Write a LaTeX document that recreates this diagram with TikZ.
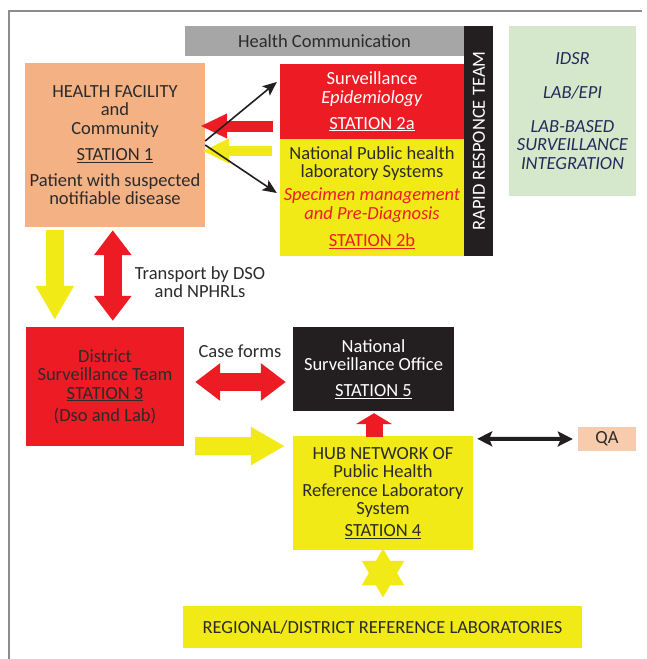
\documentclass[tikz,border=0pt]{standalone}
\usepackage{fontspec}
\setmainfont{Carlito}
\usetikzlibrary{arrows.meta,calc,shapes.geometric}
\definecolor{cRed}{HTML}{ED1C24}
\definecolor{cYel}{HTML}{F2EA16}
\definecolor{cPeach}{HTML}{F4B183}
\definecolor{cQA}{HTML}{F8CBAD}
\definecolor{cGray}{HTML}{A6A6A6}
\definecolor{cBlk}{HTML}{231F20}
\definecolor{cGreen}{HTML}{D5E8CC}
\definecolor{cNavy}{HTML}{242A5C}
\definecolor{cTxt}{HTML}{2B2B2B}
\definecolor{cFrame}{HTML}{8C8C8C}
\begin{document}
\begin{tikzpicture}[x=1pt,y=-1pt,
  box/.style={rectangle, inner sep=0pt, align=center, text=cTxt,
    font=\fontsize{18.5}{18.5}\selectfont},
  lbl/.style={inner sep=0pt, align=center, text=cTxt,
    font=\fontsize{18.5}{18.5}\selectfont},
  fatred/.style={line width=18pt, cRed, -{Triangle[length=25pt,width=36pt]}},
  fatredtwo/.style={line width=18pt, cRed, {Triangle[length=25pt,width=36pt]}-{Triangle[length=25pt,width=36pt]}},
  fatyel/.style={line width=18pt, cYel, -{Triangle[length=34pt,width=36pt]}},
  thinred/.style={line width=11pt, cRed, -{Triangle[length=27pt,width=23pt]}},
  thinyel/.style={line width=10pt, cYel, -{Triangle[length=27pt,width=23pt]}},
  blkarrow/.style={line width=1.6pt, cBlk, -{Stealth[length=14pt,width=12pt,inset=3pt]}},
  blktwo/.style={line width=4pt, cBlk, {Stealth[length=15pt,width=15pt,inset=3pt]}-{Stealth[length=15pt,width=15pt,inset=3pt]}},
]
\useasboundingbox (0,0) rectangle (647,659);
\fill[white] (0,0) rectangle (647,659);
\draw[cFrame, line width=1.2pt] (9,659) -- (9,11) -- (642,11);

% boxes
\node[box, fill=cGray, minimum width=279pt, minimum height=30pt] (hc) at (324.5,41) {Health Communication};
\node[box, fill=cBlk, minimum width=29pt, minimum height=230pt] (rrt) at (478.5,141) {};
\node[lbl, text=white, rotate=90] (rrtt) at (479,141) {RAPID RESPONCE TEAM};
\node[box, fill=cPeach, minimum width=180pt, minimum height=164pt] (hf) at (115,145)
  {HEALTH FACILITY\\ and\\ Community\\[8pt] \underline{STATION 1}\\[7pt] Patient with suspected\\ notifiable disease};
\node[box, fill=cRed, text=white, minimum width=184pt, minimum height=75pt] (st2a) at (372,101.5)
  {Surveillance\\ \textit{Epidemiology}\\[7.5pt] \underline{STATION 2a}};
\node[box, fill=cYel, minimum width=184pt, minimum height=117pt] (st2b) at (372,197.5)
  {National Public health\\ laboratory Systems\\[4.5pt]
   \textcolor{cRed}{\textit{Specimen management}}\\ \textcolor{cRed}{\textit{and Pre-Diagnosis}}\\[8.5pt]
   \textcolor{cRed}{\underline{STATION 2b}}};
\node[box, fill=cGreen, text=cNavy, minimum width=127pt, minimum height=170pt] (grn) at (572.5,111)
  {\textit{IDSR}\\[16pt] \textit{LAB/EPI}\\[15pt] \textit{LAB-BASED}\\ \textit{SURVEILLANCE}\\ \textit{INTEGRATION}};
\node[box, fill=cRed, minimum width=158pt, minimum height=119pt] (dst) at (105,386.5)
  {District\\ Surveillance Team\\ \underline{STATION 3}\\[3.5pt] (Dso and Lab)};
\node[box, fill=cBlk, text=white, minimum width=161pt, minimum height=84pt] (nso) at (373.5,369)
  {National\\ Surveillance Office\\[7pt] \underline{STATION 5}};
\node[box, fill=cYel, minimum width=180pt, minimum height=114pt] (hub) at (383,493)
  {HUB NETWORK OF\\ Public Health\\ Reference Laboratory\\ System\\[3.5pt] \underline{STATION 4}};
\node[box, fill=cQA, minimum width=58pt, minimum height=24pt] (qa) at (607,439) {QA};
\node[box, fill=cYel, minimum width=399pt, minimum height=42pt] (reg) at (382.5,627)
  {REGIONAL/DISTRICT REFERENCE LABORATORIES};
\node[star, star points=6, star point ratio=1.732, fill=cYel, inner sep=0pt, minimum size=49pt] (star) at (383,573) {};

% labels
\node[lbl] (tr) at (200,282) {Transport by DSO\\ and NPHRLs};
\node[lbl] (cf) at (240,351) {Case forms};

% connectors
\draw[thinred] ($(st2a.west)+(-7,24.5)$) -- ($(hf.east)+(-5,-19)$);
\draw[thinyel] ($(st2b.west)+(-8,-46.5)$) -- ($(hf.east)+(-3,6)$);
\draw[blkarrow] ($(hf.east)+(0,-4)$) -- ($(st2a.west)+(-3,-19.5)$);
\draw[blkarrow] ($(hf.east)+(0,0)$) -- ($(st2b.west)+(-3,-4.5)$);
\draw[fatyel] ($(hf.south west)+(30,3)$) -- ($(dst.north west)+(29,-7)$);
\draw[fatredtwo] ($(hf.south west)+(88,3)$) -- ($(dst.north west)+(87,-6)$);
\draw[fatredtwo] ($(dst.east)+(11,-4.5)$) -- ($(nso.west)+(-7,13)$);
\draw[fatyel] ($(dst.south east)+(11,0)$) -- ($(hub.west)+(-8,-47)$);
\draw[line width=17pt, cRed, -{Triangle[length=11pt,width=36pt]}] ($(hub.north)+(-9,1)$) -- ($(nso.south)+(0.5,2)$);
\draw[blktwo] ($(hub.north east)+(4,3)$) -- ($(qa.west)+(-5,0)$);
\end{tikzpicture}
\end{document}
